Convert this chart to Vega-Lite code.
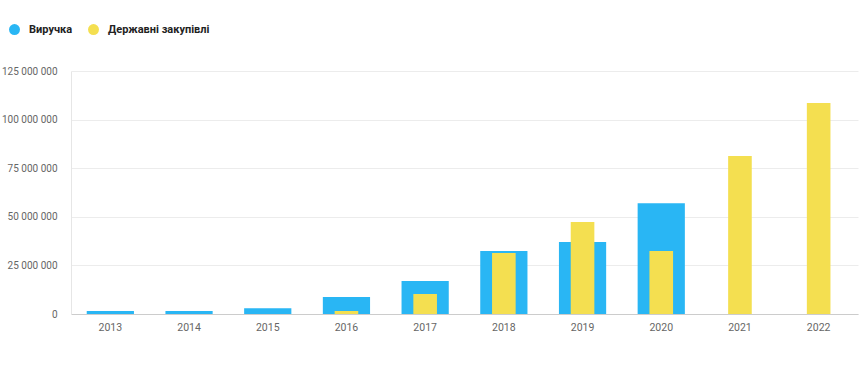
{
  "$schema": "https://vega.github.io/schema/vega-lite/v6.json",
  "autosize": "none",
  "width": 787,
  "height": 243,
  "padding": {"left": 71, "top": 71, "right": 1, "bottom": 66},
  "background": "white",
  "config": {
    "font": "Roboto",
    "view": {"stroke": null},
    "axis": {"labelFont": "Roboto", "labelFontSize": 10.5, "labelColor": "#666666", "ticks": false, "title": null}
  },
  "data": {
    "values": [
      {"year": "2013", "series": "Виручка", "value": 1500000},
      {"year": "2014", "series": "Виручка", "value": 1500000},
      {"year": "2015", "series": "Виручка", "value": 3000000},
      {"year": "2016", "series": "Виручка", "value": 8700000},
      {"year": "2017", "series": "Виручка", "value": 17000000},
      {"year": "2018", "series": "Виручка", "value": 32400000},
      {"year": "2019", "series": "Виручка", "value": 37000000},
      {"year": "2020", "series": "Виручка", "value": 57000000},
      {"year": "2016", "series": "Державні закупівлі", "value": 1500000},
      {"year": "2017", "series": "Державні закупівлі", "value": 10300000},
      {"year": "2018", "series": "Державні закупівлі", "value": 31400000},
      {"year": "2019", "series": "Державні закупівлі", "value": 47300000},
      {"year": "2020", "series": "Державні закупівлі", "value": 32400000},
      {"year": "2021", "series": "Державні закупівлі", "value": 81300000},
      {"year": "2022", "series": "Державні закупівлі", "value": 108500000}
    ]
  },
  "encoding": {
    "x": {
      "field": "year", "type": "ordinal",
      "scale": {"domain": ["2013","2014","2015","2016","2017","2018","2019","2020","2021","2022"], "paddingInner": 0.4, "paddingOuter": 0.2},
      "axis": {"labelAngle": 0, "labelPadding": 8, "domainColor": "#cccccc", "grid": false}
    },
    "y": {
      "field": "value", "type": "quantitative",
      "scale": {"domain": [0, 125000000], "nice": false},
      "axis": {
        "values": [0, 25000000, 50000000, 75000000, 100000000, 125000000],
        "labelExpr": "replace(format(datum.value, ','), regexp(',', 'g'), ' ')",
        "labelFontSize": 10,
        "labelPadding": 14,
        "domain": true, "domainColor": "#e6e6e6",
        "grid": true, "gridColor": "#ececec"
      }
    },
    "color": {
      "field": "series", "type": "nominal",
      "scale": {"domain": ["Виручка", "Державні закупівлі"], "range": ["#29B6F4", "#F4DF50"]},
      "legend": {
        "title": null, "orient": "none", "legendX": -63, "legendY": -48,
        "direction": "horizontal", "symbolType": "circle", "symbolSize": 120,
        "symbolOpacity": 1, "labelFont": "Roboto", "labelFontSize": 11, "labelFontWeight": "bold",
        "labelColor": "#222222", "labelOffset": 8, "columnPadding": 14
      }
    }
  },
  "layer": [
    {
      "transform": [{"filter": "datum.series === 'Виручка'"}],
      "mark": {"type": "bar", "opacity": 1}
    },
    {
      "transform": [{"filter": "datum.series === 'Державні закупівлі'"}],
      "mark": {"type": "bar", "opacity": 1, "width": {"band": 0.5}}
    }
  ]
}
